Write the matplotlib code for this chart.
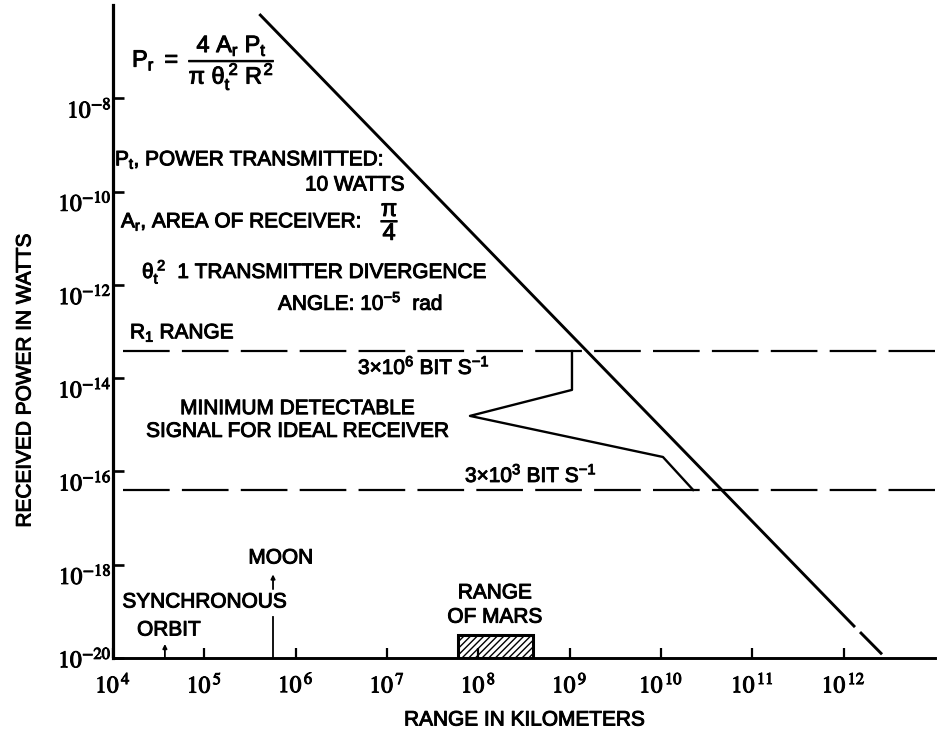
import numpy as np
import matplotlib
matplotlib.use("Agg")
import matplotlib.pyplot as plt
import matplotlib.patheffects as pe
from matplotlib.patches import Rectangle
from matplotlib.transforms import ScaledTranslation

plt.rcParams["font.family"] = ["Liberation Sans", "DejaVu Sans"]
plt.rcParams["mathtext.fontset"] = "custom"
plt.rcParams["mathtext.rm"] = "Liberation Sans"
plt.rcParams["mathtext.it"] = "Liberation Sans"
plt.rcParams["mathtext.bf"] = "Liberation Sans:bold"
plt.rcParams["hatch.linewidth"] = 1.0

# values (range in km, power in W)
link_x = [[4.0e5, 1.33e12], [1.51e12, 2.63e12]]   # Pr line, drawn with a small break
link_y = [[6.4e-7, 4.6e-20], [3.6e-20, 1.2e-20]]

rate_levels = [3.8e-14, 4.0e-17]                   # 3e6 and 3e3 bit/s thresholds
rate_x = [1.3e4, 1.0e13]

signal_x = [1.06e9, 1.06e9, 8.1e7, 1.05e10, 2.25e10]
signal_y = [3.8e-14, 5.6e-15, 1.55e-15, 2.04e-16, 4.0e-17]

mars_x = [6.0e7, 3.97e8]
mars_top = 3.1e-20

moon_x = 5.65e5
moon_line = [1.0e-20, 7.6e-20]
moon_arrow = [3.0e-19, 6.2e-19]

sync_x = 3.7e4
sync_arrow = [1.0e-20, 2.0e-20]

x_exp = np.arange(4, 13)
y_exp = np.arange(-20, -7, 2)

W, H = 942, 738
ink = [pe.withStroke(linewidth=0.7, foreground="black")]

fig = plt.figure(figsize=(W / 100, H / 100), dpi=100)
ax = fig.add_axes([113 / W, 80 / H, (935 - 113) / W, (658 - 5) / H])
ax.set_xscale("log")
ax.set_yscale("log")
ax.set_xlim(1e4, 1e13)
ax.set_ylim(1e-20, 1e-6)

for xs, ys in zip(link_x, link_y):
    ax.plot(xs, ys, color="black", lw=2.1, solid_capstyle="butt")

for lvl in rate_levels:
    ax.plot(rate_x, [lvl, lvl], color="black", lw=1.6, dashes=(21, 5.5), clip_on=False)

ax.plot(signal_x, signal_y, color="black", lw=1.7)

ax.add_patch(Rectangle((mars_x[0], 1e-20), mars_x[1] - mars_x[0], mars_top - 1e-20,
                       facecolor="white", edgecolor="black", lw=2.2, hatch="/////"))

ax.plot([moon_x, moon_x], moon_line, color="black", lw=1.3)
for ax_x, (y0, y1) in [(moon_x, moon_arrow), (sync_x, sync_arrow)]:
    ax.annotate("", xy=(ax_x, y1), xytext=(ax_x, y0),
                arrowprops=dict(arrowstyle="-|>", color="black", lw=1.3,
                                mutation_scale=6, shrinkA=0, shrinkB=0))

ax.spines[["top", "right"]].set_visible(False)
ax.spines["left"].set_linewidth(2.3)
ax.spines["bottom"].set_linewidth(2.1)

ax.set_xticks(10.0 ** x_exp)
ax.set_xticklabels([r"$10^{\,%d}$" % e for e in x_exp], fontsize=17, math_fontfamily="stix")
ax.set_yticks(10.0 ** y_exp)
ax.set_yticklabels([r"$10^{%d}$" % e for e in y_exp], fontsize=17, math_fontfamily="stix")
ax.minorticks_off()
ax.tick_params(axis="x", direction="in", length=7, width=1.6, pad=10)
ax.tick_params(axis="y", direction="in", length=8, width=1.9, pad=1)

for i, lbl in enumerate(ax.get_yticklabels()):
    dy = 1 if i == 0 else -9
    lbl.set_transform(lbl.get_transform() + ScaledTranslation(0, dy / 100, fig.dpi_scale_trans))
for lbl in ax.get_xticklabels() + ax.get_yticklabels():
    lbl.set_path_effects(ink)


def put(x, y, s, **kw):
    kw.setdefault("fontsize", 15)
    kw.setdefault("va", "center")
    fig.text(x / W, 1 - y / H, s, path_effects=ink, **kw)


put(132, 63, r"$P_r\ =\ \dfrac{4\ A_r\ P_t}{\pi\ \theta_t^{\,2}\ R^2}$", ha="left", fontsize=17)
put(115, 160, r"$P_t$, POWER TRANSMITTED:", ha="left")
put(405, 185, "10 WATTS", ha="right")
put(121, 222, r"$A_r$, AREA OF RECEIVER:", ha="left")
put(390, 222, r"$\dfrac{\pi}{4}$", ha="center", fontsize=17)
put(142, 272, r"$\theta_t^{\,2}$  1 TRANSMITTER DIVERGENCE", ha="left")
put(278, 303, r"ANGLE: 10$^{-5}$  rad", ha="left")
put(130, 333, r"$R_1$ RANGE", ha="left")
put(358, 367, r"3×10$^{6}$ BIT S$^{-1}$", ha="left")
put(298, 420, "MINIMUM DETECTABLE\nSIGNAL FOR IDEAL RECEIVER", ha="center",
    multialignment="center", linespacing=1.25)
put(465, 475, r"3×10$^{3}$ BIT S$^{-1}$", ha="left")
put(281, 558, "MOON", ha="center")
put(205, 602, "SYNCHRONOUS", ha="center")
put(169, 630, "ORBIT", ha="center")
put(495, 605, "RANGE\nOF MARS", ha="center", multialignment="center", linespacing=1.35)
put(525, 720, "RANGE IN KILOMETERS", ha="center")
put(25, 380, "RECEIVED POWER IN WATTS", ha="center", rotation=90)

fig.savefig("out.png", dpi=100)
